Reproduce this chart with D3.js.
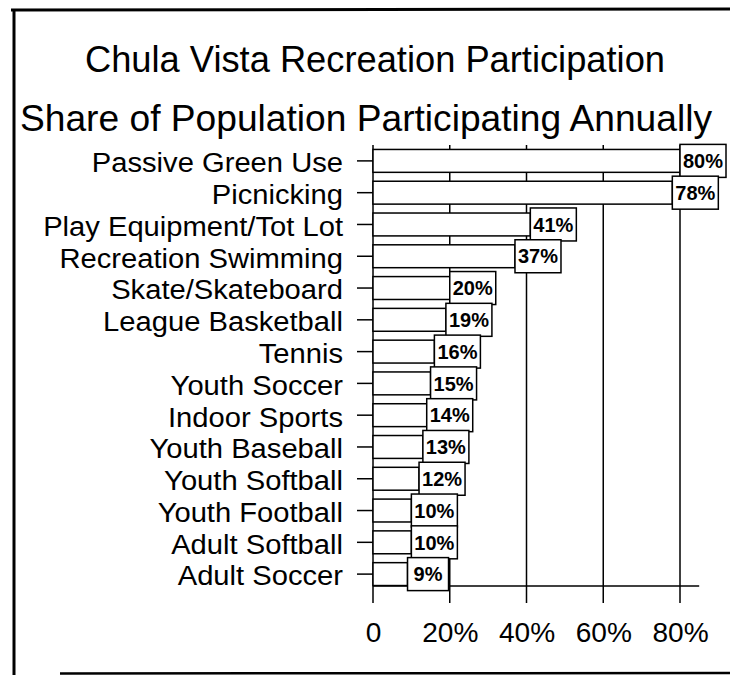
<!DOCTYPE html>
<html>
<head>
<meta charset="utf-8">
<script src="https://cdn.jsdelivr.net/npm/d3@7/dist/d3.min.js"></script>
<style>
  html, body { margin: 0; padding: 0; background: #fff; }
  svg { display: block; }
  text { font-family: Arial, "Liberation Sans", sans-serif; fill: #000; }
</style>
</head>
<body>
<svg id="chart" width="730" height="675"></svg>
<script>
// Activities, top to bottom
const categories = [
  "Passive Green Use", "Picnicking", "Play Equipment/Tot Lot", "Recreation Swimming",
  "Skate/Skateboard", "League Basketball", "Tennis", "Youth Soccer", "Indoor Sports",
  "Youth Baseball", "Youth Softball", "Youth Football", "Adult Softball", "Adult Soccer"
];
// Percent of residents participating each year
const participation = [80, 78, 41, 37, 20, 19, 16, 15, 14, 13, 12, 10, 10, 9];
// Axis ticks (percent) and their printed labels
const tickValues = [0, 20, 40, 60, 80];
const tickLabels = ["0", "20%", "40%", "60%", "80%"];

const titleLines = [
  "Chula Vista Recreation Participation",
  "Share of Population Participating Annually"
];

const svg = d3.select("#chart");

// Widen a text run horizontally by a factor, keeping its anchor
function stretch(sel, factor) {
  sel.each(function () {
    const w = this.getComputedTextLength();
    d3.select(this).attr("textLength", w * factor).attr("lengthAdjust", "spacingAndGlyphs");
  });
}

// Page frame
const frame = svg.append("g").attr("stroke", "#000").attr("fill", "none");
frame.append("line").attr("x1", 11).attr("y1", 10).attr("x2", 730).attr("y2", 9).attr("stroke-width", 3);
frame.append("line").attr("x1", 14).attr("y1", 9).attr("x2", 14).attr("y2", 675).attr("stroke-width", 3);
frame.append("line").attr("x1", 60).attr("y1", 673.5).attr("x2", 730).attr("y2", 673).attr("stroke-width", 2.5);

// Titles
svg.append("text").attr("x", 375).attr("y", 72).attr("text-anchor", "middle")
  .style("font-size", "36px").text(titleLines[0])
  .attr("textLength", 580).attr("lengthAdjust", "spacingAndGlyphs");
svg.append("text").attr("x", 366).attr("y", 131).attr("text-anchor", "middle")
  .style("font-size", "36px").text(titleLines[1])
  .attr("textLength", 692).attr("lengthAdjust", "spacingAndGlyphs");

// Scales
const x0 = 373;
const x = d3.scaleLinear().domain([0, 80]).range([x0, 680]);
const y = d3.scaleBand().domain(categories).range([145, 590]).paddingInner(0.28).paddingOuter(0.14);

const plotTop = 145, baseY = 586, tickBottom = 603;

// Vertical gridlines with ticks below the baseline
svg.append("g").selectAll("line").data(tickValues.slice(1)).join("line")
  .attr("x1", d => x(d)).attr("x2", d => x(d))
  .attr("y1", plotTop).attr("y2", tickBottom)
  .attr("stroke", "#000").attr("stroke-width", 1.5);

// Left axis line
svg.append("line").attr("x1", x0).attr("x2", x0).attr("y1", plotTop).attr("y2", tickBottom)
  .attr("stroke", "#000").attr("stroke-width", 1.5);

// Baseline
svg.append("line").attr("x1", x0).attr("x2", x(85)).attr("y1", baseY).attr("y2", baseY)
  .attr("stroke", "#000").attr("stroke-width", 1.5);

// Category axis
const yAxis = d3.axisLeft(y).tickSize(16).tickPadding(14);
const ya = svg.append("g").attr("transform", `translate(${x0},0)`).call(yAxis);
ya.select(".domain").remove();
ya.selectAll(".tick line").attr("stroke", "#000").attr("stroke-width", 1.5);
ya.selectAll(".tick text")
  .style("font-size", "27px").style("font-family", "Arial, 'Liberation Sans', sans-serif")
  .attr("fill", "#000").attr("dy", "0.42em")
  .call(stretch, 1.08);

// X axis labels
const xAxis = d3.axisBottom(x).tickValues(tickValues).tickSize(0).tickPadding(0)
  .tickFormat((d, i) => tickLabels[i]);
const xa = svg.append("g").attr("transform", `translate(0,${tickBottom})`).call(xAxis);
xa.select(".domain").remove();
xa.selectAll(".tick text")
  .style("font-size", "27px").style("font-family", "Arial, 'Liberation Sans', sans-serif")
  .attr("fill", "#000").attr("y", 39).attr("dy", 0)
  .call(stretch, 1.04);

// Bars
svg.append("g").selectAll("rect").data(participation).join("rect")
  .attr("x", x0)
  .attr("y", (d, i) => y(categories[i]))
  .attr("width", d => x(d) - x0)
  .attr("height", y.bandwidth())
  .attr("fill", "#fff").attr("stroke", "#000").attr("stroke-width", 1.5);

// Value boxes at bar ends
const boxW = 46, boxH = 33;
const vals = svg.append("g").selectAll("g").data(participation).join("g")
  .attr("transform", (d, i) => `translate(${x(d)},${y(categories[i]) + y.bandwidth() / 2})`);
vals.append("rect")
  .attr("x", 0).attr("y", -boxH / 2).attr("width", d => d < 10 ? 41 : boxW).attr("height", boxH)
  .attr("fill", "#fff").attr("stroke", "#000").attr("stroke-width", 1.5);
vals.append("text")
  .attr("x", d => (d < 10 ? 41 : boxW) / 2).attr("y", 0).attr("dy", "0.36em")
  .attr("text-anchor", "middle")
  .style("font-size", "20px").style("font-weight", "bold")
  .text(d => d + "%");
</script>
</body>
</html>
